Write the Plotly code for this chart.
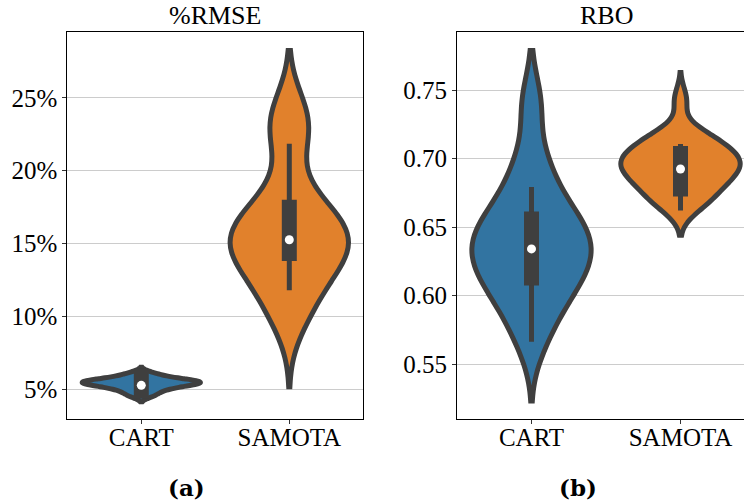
import plotly.graph_objects as go

# ---------------- data ----------------
categories = ["CART", "SAMOTA"]

# %RMSE samples (percent)
rmse_cart = [4.55, 4.85, 5.05, 5.2, 5.3, 5.4, 5.45, 5.5, 5.55, 5.65, 5.8, 6.05]
rmse_samota = [10.0, 11.9, 13.3, 14.2, 14.9, 15.4, 16.0, 16.8, 18.2, 22.3, 24.0]

# RBO samples
rbo_cart = [0.567, 0.588, 0.600, 0.609, 0.617, 0.624, 0.630, 0.636, 0.642,
            0.649, 0.656, 0.664, 0.680, 0.700, 0.741]
rbo_samota = [0.662, 0.667, 0.671, 0.675, 0.678, 0.681, 0.684, 0.687, 0.689,
              0.691, 0.693, 0.695, 0.697, 0.699, 0.701, 0.703, 0.705, 0.707,
              0.710, 0.714, 0.717, 0.720, 0.743]

# y tick values / labels
rmse_ticks = [5, 10, 15, 20, 25]
rmse_ticktext = ["5%", "10%", "15%", "20%", "25%"]
rbo_ticks = [0.55, 0.60, 0.65, 0.70, 0.75]
rbo_ticktext = ["0.55", "0.60", "0.65", "0.70", "0.75"]

# inner box statistics (CART, SAMOTA)
rmse_whislo = [4.35, 11.78]
rmse_q1 = [4.35, 13.8]
rmse_median = [5.25, 15.25]
rmse_q3 = [6.4, 17.99]
rmse_whishi = [6.4, 21.85]

rbo_whislo = [0.5663, 0.6621]
rbo_q1 = [0.6073, 0.6723]
rbo_median = [0.6341, 0.6925]
rbo_q3 = [0.6615, 0.7092]
rbo_whishi = [0.6793, 0.7107]

# KDE settings (bandwidth, span) per violin
kde_rmse = [(0.2, [4.13, 6.49]), (2.0, [5.15, 28.25])]
kde_rbo = [(0.02, [0.523, 0.779]), (0.009, [0.644, 0.763])]

# ---------------- style ----------------
colors = ["#3274a1", "#e1812c"]
edge = "#3f3f3f"
serif = "Liberation Serif, Times New Roman, serif"

fig = go.Figure()


def add_panel(samples, kde, whislo, q1, med, q3, whishi, xa, ya):
    for i, (cat, data) in enumerate(zip(categories, samples)):
        bw, span = kde[i]
        fig.add_trace(go.Violin(
            x=[cat] * len(data), y=data, xaxis=xa, yaxis=ya,
            bandwidth=bw, spanmode="manual", span=span,
            width=0.8, scalemode="width", points=False,
            box_visible=False, meanline_visible=False,
            fillcolor=colors[i], line=dict(color=edge, width=5),
            showlegend=False, hoverinfo="skip"))
    for i, cat in enumerate(categories):
        fig.add_trace(go.Scatter(
            x=[cat, cat], y=[whislo[i], whishi[i]], xaxis=xa, yaxis=ya,
            mode="lines", line=dict(color=edge, width=5),
            showlegend=False, hoverinfo="skip"))
        fig.add_trace(go.Scatter(
            x=[cat, cat], y=[q1[i], q3[i]], xaxis=xa, yaxis=ya,
            mode="lines", line=dict(color=edge, width=15),
            showlegend=False, hoverinfo="skip"))
    fig.add_trace(go.Scatter(
        x=categories, y=med, xaxis=xa, yaxis=ya, mode="markers",
        marker=dict(color="white", size=9, line=dict(width=0)),
        showlegend=False, hoverinfo="skip"))


add_panel([rmse_cart, rmse_samota], kde_rmse, rmse_whislo, rmse_q1,
          rmse_median, rmse_q3, rmse_whishi, "x", "y")
add_panel([rbo_cart, rbo_samota], kde_rbo, rbo_whislo, rbo_q1,
          rbo_median, rbo_q3, rbo_whishi, "x2", "y2")

W, H = 744, 504
ydom = [1 - 419.3 / H, 1 - 31.7 / H]

tfont = dict(family=serif, size=25, color="black")
axis_common = dict(showline=True, linecolor="black", linewidth=1,
                   ticks="outside", ticklen=4, tickcolor="#333333",
                   tickfont=tfont, zeroline=False)

fig.update_layout(
    width=W, height=H, margin=dict(l=0, r=0, t=0, b=0),
    paper_bgcolor="white", plot_bgcolor="white",
    font=dict(family=serif, size=25, color="black"),
    violinmode="overlay",
    xaxis=dict(domain=[67.3 / W, 363.3 / W], type="category",
               categoryorder="array", categoryarray=categories,
               range=[-0.5, 1.5], mirror=True, showgrid=False,
               ticklabelstandoff=-8, anchor="y", **axis_common),
    yaxis=dict(domain=ydom, range=[2.92, 29.54], tickmode="array",
               tickvals=rmse_ticks, ticktext=rmse_ticktext,
               showgrid=True, gridcolor="#cccccc", gridwidth=1,
               mirror=True, anchor="x", **axis_common),
    xaxis2=dict(domain=[457.0 / W, 1.0], type="category",
                categoryorder="array", categoryarray=categories,
                range=[-0.5, -0.5 + 287.0 / 149.0], mirror=True,
                showgrid=False, ticklabelstandoff=-8, anchor="y2",
                **axis_common),
    yaxis2=dict(domain=ydom, range=[0.5096, 0.7928], tickmode="array",
                tickvals=rbo_ticks, ticktext=rbo_ticktext,
                showgrid=True, gridcolor="#cccccc", gridwidth=1,
                mirror=False, anchor="x2", **axis_common),
    annotations=[
        dict(text="%RMSE", x=215.3 / W, y=1 - 15 / H, xref="paper",
             yref="paper", showarrow=False, xanchor="center",
             yanchor="middle", font=dict(family=serif, size=26, color="black")),
        dict(text="RBO", x=606.0 / W, y=1 - 15 / H, xref="paper",
             yref="paper", showarrow=False, xanchor="center",
             yanchor="middle", font=dict(family=serif, size=26, color="black")),
        dict(text="<b>(a)</b>", x=186.7 / W, y=1 - 487 / H, xref="paper",
             yref="paper", showarrow=False, xanchor="center",
             yanchor="middle", font=dict(family="DejaVu Serif", size=23, color="black")),
        dict(text="<b>(b)</b>", x=577.5 / W, y=1 - 487 / H, xref="paper",
             yref="paper", showarrow=False, xanchor="center",
             yanchor="middle", font=dict(family="DejaVu Serif", size=23, color="black")),
    ],
)

fig.write_html("out.html")
